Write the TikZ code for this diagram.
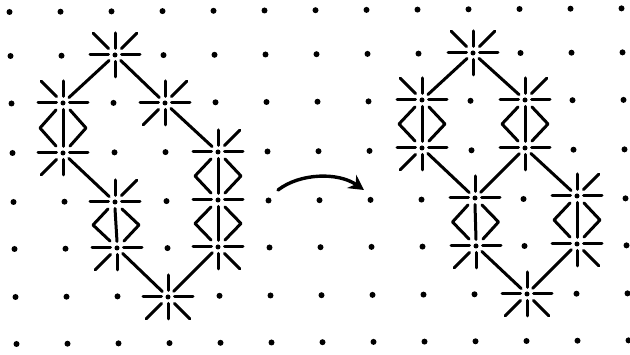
\documentclass[tikz,border=0pt]{standalone}
\usetikzlibrary{calc,arrows.meta}
\makeatletter
\def\starcells{,2-1,1-2,3-2,1-3,4-3,2-4,4-4,2-5,4-5,3-6,9-1,8-2,10-2,8-3,10-3,9-4,11-4,9-5,11-5,10-6,}
\newcommand\unlessstar[3]{\edef\tmpcheck{\noexpand\in@{,#1-#2,}{\starcells}}\tmpcheck\ifin@\else#3\fi}
\makeatother
\tikzset{
  ray/.style={line width=3pt, line cap=round, line join=round, black},
  conn/.style={line width=3pt, line cap=round, black, shorten >=8pt, shorten <=8pt},
  gdot/.style={fill=black},
  arrowline/.style={line width=3.4pt, line cap=round, -{Stealth[length=15pt,width=16pt,inset=5pt]}}
}
\newcommand\starrays[2]{%
  \foreach \d in {#2}{%
    \pgfmathsetmacro\rIn{(\d==0||\d==180||\d==90||\d==270)?6.5:9}%
    \pgfmathsetmacro\rOut{(\d==0||\d==180)?25:((\d==90||\d==270)?22:31)}%
    \draw[ray] ($(#1)+(\d:\rIn)$) -- ($(#1)+(\d:\rOut)$);}%
  \fill (#1) circle (2.5);}
\newcommand\rung[2]{%
  \draw[ray] ($(#1)+(0,-6.5)$) -- ($(#2)+(0,6.5)$);
  \draw[ray] ($(#1)+(-7,-7)$) -- ($(#1)!0.5!(#2)+(-23,0)$) -- ($(#2)+(-7,7)$);
  \draw[ray] ($(#1)+(7,-7)$) -- ($(#1)!0.5!(#2)+(23,0)$) -- ($(#2)+(7,7)$);}
\begin{document}
\begin{tikzpicture}[x=1pt,y=1pt]
\useasboundingbox (0,0) rectangle (630,355);
\fill[white] (0,0) rectangle (630,355);
% dot grid
\foreach \j/\a in {0/12,1/56,2/103.5,3/153,4/202,5/249,6/297,7/344}{
  \foreach \i in {0,...,12}{
    \unlessstar{\i}{\j}{\fill[gdot] (9.5+51*\i+\j, 355-\a+0.3*\i) circle (3);}
  }
}
% left figure stars
\coordinate (S21) at (115,300);
\coordinate (S12) at (63,252);
\coordinate (S32) at (165,252);
\coordinate (S13) at (63,202);
\coordinate (S43) at (218,203);
\coordinate (S24) at (115,153);
\coordinate (S44) at (218,155);
\coordinate (S25) at (117,107);
\coordinate (S45) at (218,108);
\coordinate (S36) at (168,58);
% right figure stars
\coordinate (R91) at (473,302);
\coordinate (R82) at (422,255);
\coordinate (R102) at (525,255);
\coordinate (R83) at (422,207);
\coordinate (R103) at (525,207);
\coordinate (R94) at (475,157);
\coordinate (R114) at (577,159);
\coordinate (R95) at (476,109);
\coordinate (R115) at (577,111);
\coordinate (R106) at (527,61);
% rays
\starrays{S21}{0,45,90,135,180,270}
\starrays{S12}{0,90,135,180}
\starrays{S32}{0,45,90,180,225,270}
\starrays{S13}{0,180,225,270}
\starrays{S43}{0,45,90,180}
\starrays{S24}{0,45,90,180}
\starrays{S44}{0,180}
\starrays{S25}{0,180,225,270}
\starrays{S45}{0,180,270,315}
\starrays{S36}{0,90,180,225,270,315}
\starrays{R91}{0,45,90,135,180,270}
\starrays{R82}{0,90,135,180}
\starrays{R102}{0,45,90,180}
\starrays{R83}{0,180,225,270}
\starrays{R103}{0,180,270}
\starrays{R94}{0,90,180}
\starrays{R114}{0,45,90,180}
\starrays{R95}{0,180,225,270}
\starrays{R115}{0,180,270,315}
\starrays{R106}{0,90,180,225,270,315}
% rungs
\rung{S12}{S13}
\rung{S24}{S25}
\rung{S43}{S44}
\rung{S44}{S45}
\rung{R82}{R83}
\rung{R102}{R103}
\rung{R94}{R95}
\rung{R114}{R115}
% diagonal connectors
\draw[conn] (S21) -- (S12);
\draw[conn] (S21) -- (S32);
\draw[conn] (S32) -- (S43);
\draw[conn] (S13) -- (S24);
\draw[conn] (S25) -- (S36);
\draw[conn] (S45) -- (S36);
\draw[conn] (R91) -- (R82);
\draw[conn] (R91) -- (R102);
\draw[conn] (R83) -- (R94);
\draw[conn] (R103) -- (R94);
\draw[conn] (R103) -- (R114);
\draw[conn] (R95) -- (R106);
\draw[conn] (R115) -- (R106);
% arrow
\coordinate (as) at (278,165);
\coordinate (ae) at (364,165);
\draw[arrowline] (as) .. controls (300,182) and (338,183) .. (ae);
\end{tikzpicture}
\end{document}
